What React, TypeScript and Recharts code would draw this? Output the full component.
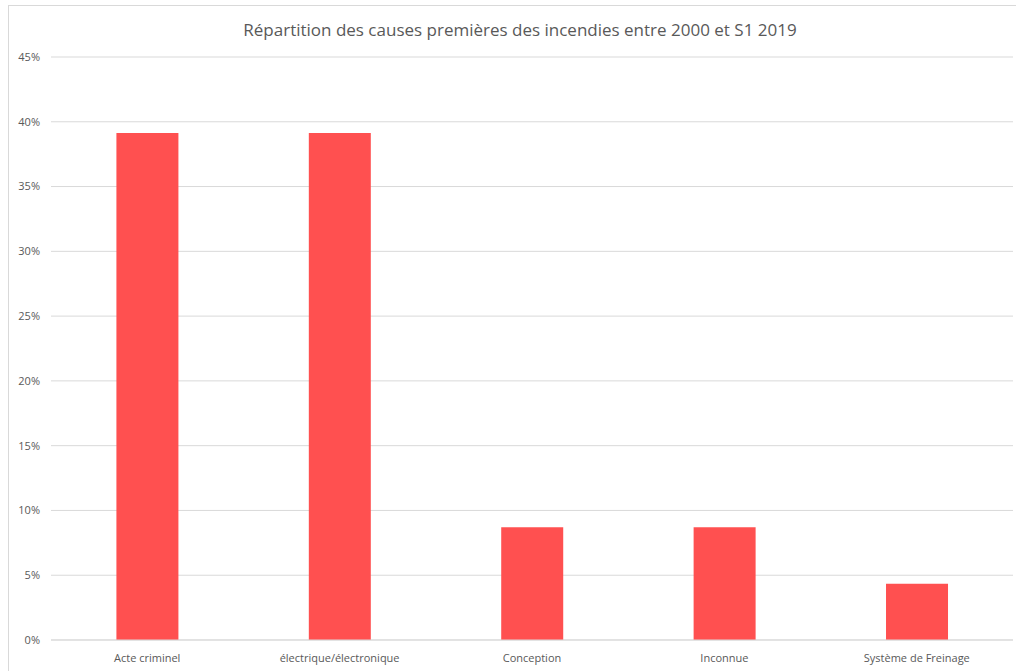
import { BarChart, Bar, XAxis, YAxis, CartesianGrid } from 'recharts';

const causes = ['Acte criminel', 'électrique/électronique', 'Conception', 'Inconnue', 'Système de Freinage'];
const shares = [0.3913, 0.3913, 0.087, 0.087, 0.0435];
const yTicks = [0, 0.05, 0.1, 0.15, 0.2, 0.25, 0.3, 0.35, 0.4, 0.45];

const data = causes.map((cause, i) => ({ cause, part: shares[i] }));

const FONT = '"Open Sans", "Liberation Sans", sans-serif';

export default function App() {
  return (
    <div style={{ position: 'absolute', left: 0, top: 0, width: 1016, height: 671, overflow: 'hidden', background: '#fff', fontFamily: FONT }}>
      {/* cadre du graphique (bords droit et bas hors image) */}
      <div style={{ position: 'absolute', left: 8, top: 5, width: 1020, height: 700, border: '1px solid #d9d9d9' }} />
      <div style={{ position: 'absolute', left: 0, top: 18, width: 1040, textAlign: 'center', fontSize: 17, color: '#595959' }}>
        Répartition des causes premières des incendies entre 2000 et S1 2019
      </div>
      <div style={{ position: 'absolute', left: 0, top: 0 }}>
        <BarChart width={1016} height={671} data={data} margin={{ top: 57, right: 3, bottom: 1, left: 0 }} barCategoryGap="34%">
          <CartesianGrid vertical={false} stroke="#d9d9d9" />
          <XAxis
            dataKey="cause"
            height={30}
            tickLine={false}
            axisLine={{ stroke: '#d9d9d9' }}
            tick={{ fill: '#595959', fontSize: 11, fontFamily: FONT }}
            tickMargin={8}
            interval={0}
          />
          <YAxis
            width={51}
            domain={[0, 0.45]}
            ticks={yTicks}
            tickFormatter={(v: number) => `${Math.round(v * 100)}%`}
            axisLine={false}
            tickLine={false}
            tickSize={0}
            tickMargin={11}
            tick={{ fill: '#595959', fontSize: 11, fontFamily: FONT }}
          />
          <Bar dataKey="part" fill="#ff5050" isAnimationActive={false} />
        </BarChart>
      </div>
    </div>
  );
}
